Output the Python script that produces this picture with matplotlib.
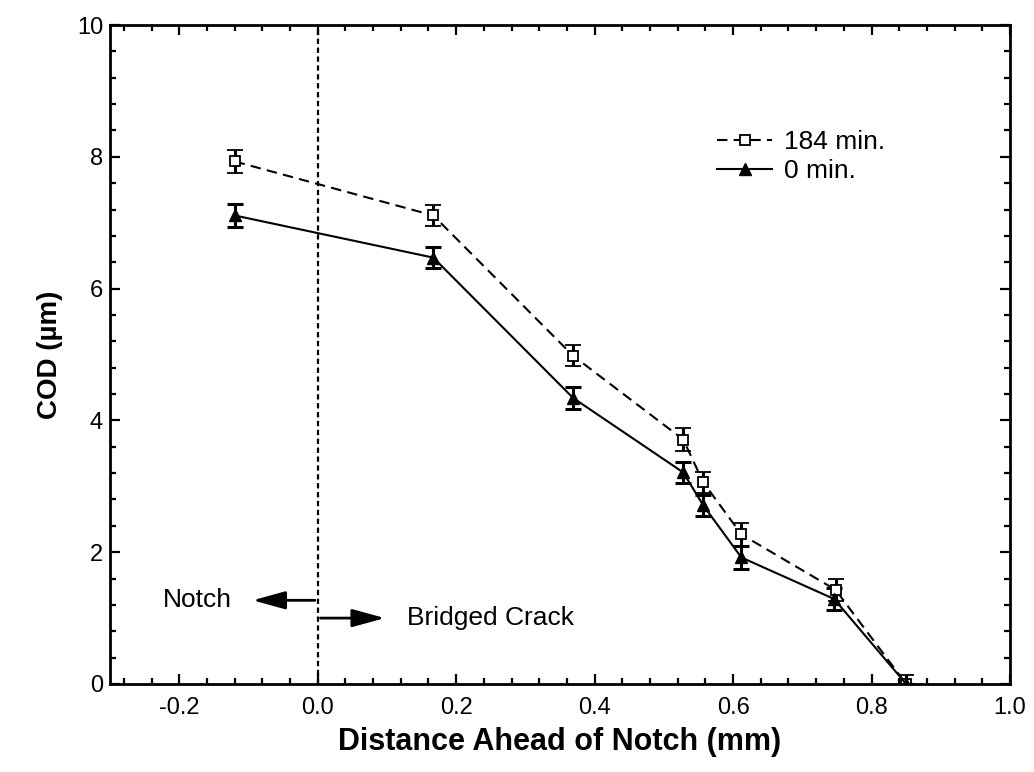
import numpy as np
import matplotlib.pyplot as plt
from matplotlib.lines import Line2D
from matplotlib.ticker import MultipleLocator, FormatStrFormatter

plt.rcParams['font.family'] = ['Liberation Sans', 'DejaVu Sans']

# distance ahead of notch (mm)
x_184 = [-0.12, 0.167, 0.369, 0.528, 0.557, 0.612, 0.748, 0.85]
cod_184 = [7.93, 7.11, 4.98, 3.71, 3.06, 2.27, 1.43, 0.0]
err_184 = [0.17, 0.16, 0.16, 0.17, 0.16, 0.17, 0.17, 0.13]

x_0 = [-0.12, 0.167, 0.369, 0.528, 0.557, 0.612, 0.746, 0.85]
cod_0 = [7.11, 6.47, 4.34, 3.21, 2.71, 1.92, 1.29, 0.0]
err_0 = [0.17, 0.16, 0.17, 0.16, 0.16, 0.17, 0.16, 0.0]

fig = plt.figure(figsize=(10.34, 7.72), dpi=100)
ax = fig.add_axes([110 / 1034, 88 / 772, 900 / 1034, 659 / 772])

dash = (0, (5, 3))
ax.errorbar(x_184, cod_184, yerr=err_184, color='black', ls=dash, lw=1.5,
            marker='s', ms=7, mfc='white', mec='black', mew=1.3,
            capsize=5.5, capthick=2.2, elinewidth=2.2)
ax.errorbar(x_0, cod_0, yerr=err_0, color='black', ls='-', lw=1.5,
            marker='^', ms=8, mfc='black', mec='black',
            capsize=5.5, capthick=2.2, elinewidth=2.2)

ax.axvline(0.0, color='black', ls=(0, (2.4, 1.6)), lw=1.6)

# notch / bridged crack arrows
arrow = dict(arrowstyle='-|>,head_length=2.0,head_width=0.55', color='black', lw=2)
ax.annotate('', xy=(-0.098, 1.27), xytext=(0.0, 1.27), arrowprops=arrow)
ax.annotate('', xy=(0.101, 1.0), xytext=(0.0, 1.0), arrowprops=arrow)
ax.text(-0.223, 1.27, 'Notch', fontsize=19, va='center', ha='left')
ax.text(0.129, 1.0, 'Bridged Crack', fontsize=19, va='center', ha='left')

ax.set_xlim(-0.3, 1.0)
ax.set_ylim(0, 10)
ax.xaxis.set_major_locator(MultipleLocator(0.2))
ax.xaxis.set_minor_locator(MultipleLocator(0.04))
ax.yaxis.set_major_locator(MultipleLocator(2))
ax.yaxis.set_minor_locator(MultipleLocator(0.4))
ax.xaxis.set_major_formatter(FormatStrFormatter('%.1f'))
ax.yaxis.set_major_formatter(FormatStrFormatter('%d'))
ax.tick_params(which='both', direction='in', top=True, right=True, width=1.6)
ax.tick_params(which='major', length=7, labelsize=17)
ax.tick_params(axis='x', which='major', pad=9)
ax.tick_params(axis='y', which='major', pad=5)
ax.tick_params(which='minor', length=4)
for s in ax.spines.values():
    s.set_linewidth(2)

ax.set_xlabel('Distance Ahead of Notch (mm)', fontsize=22, fontweight='bold', labelpad=6)
ax.set_ylabel('COD (\u00b5m)', fontsize=20, fontweight='bold', labelpad=10)

handles = [
    Line2D([], [], color='black', ls=dash, lw=1.5, marker='s', ms=7,
           mfc='white', mec='black', mew=1.3),
    Line2D([], [], color='black', ls='-', lw=1.5, marker='^', ms=8,
           mfc='black', mec='black'),
]
ax.legend(handles, ['184 min.', '0 min.'], loc='upper left',
          bbox_to_anchor=(717 / 1034, (772 - 130) / 772),
          bbox_transform=fig.transFigure, frameon=False, borderpad=0,
          borderaxespad=0, fontsize=19, handlelength=2.1,
          handletextpad=0.42, labelspacing=0.2)

plt.savefig('out.png', dpi=100)
